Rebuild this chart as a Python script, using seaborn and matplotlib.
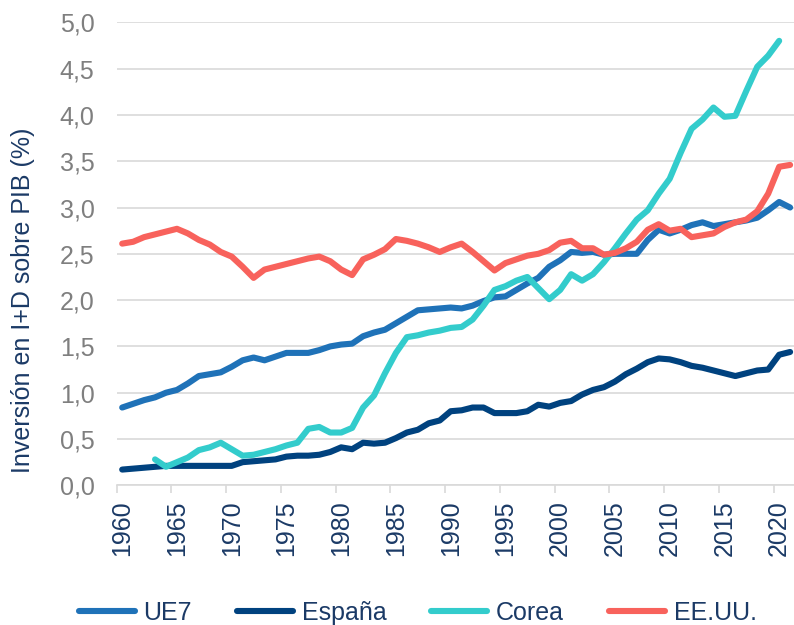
import matplotlib
matplotlib.use('Agg')
import matplotlib.pyplot as plt
from matplotlib.ticker import FixedLocator, FuncFormatter
import seaborn as sns
import pandas as pd
import numpy as np

# Inversión en I+D sobre PIB (%), 1960-2021
years = list(range(1960, 2022))

ue7 = [0.84, 0.88, 0.92, 0.95, 1.00, 1.03, 1.10, 1.18, 1.20, 1.22,
       1.28, 1.35, 1.38, 1.35, 1.39, 1.43, 1.43, 1.43, 1.46, 1.50,
       1.52, 1.53, 1.61, 1.65, 1.68, 1.75, 1.82, 1.89, 1.90, 1.91,
       1.92, 1.91, 1.94, 1.99, 2.03, 2.04, 2.11, 2.18, 2.24, 2.36,
       2.43, 2.52, 2.51, 2.52, 2.49, 2.50, 2.50, 2.50, 2.65, 2.76,
       2.72, 2.76, 2.81, 2.84, 2.80, 2.82, 2.84, 2.86, 2.89, 2.97,
       3.06, 3.00]

espana = [0.17, 0.18, 0.19, 0.20, 0.21, 0.21, 0.21, 0.21, 0.21, 0.21,
          0.21, 0.25, 0.26, 0.27, 0.28, 0.31, 0.32, 0.32, 0.33, 0.36,
          0.41, 0.39, 0.46, 0.45, 0.46, 0.51, 0.57, 0.60, 0.67, 0.70,
          0.80, 0.81, 0.84, 0.84, 0.78, 0.78, 0.78, 0.80, 0.87, 0.85,
          0.89, 0.91, 0.98, 1.03, 1.06, 1.12, 1.20, 1.26, 1.33, 1.37,
          1.36, 1.33, 1.29, 1.27, 1.24, 1.21, 1.18, 1.21, 1.24, 1.25,
          1.41, 1.44]

corea = [np.nan, np.nan, np.nan, 0.28, 0.20, 0.25, 0.30, 0.38, 0.41, 0.46,
         0.39, 0.32, 0.33, 0.36, 0.39, 0.43, 0.46, 0.61, 0.63, 0.57,
         0.57, 0.62, 0.84, 0.97, 1.21, 1.43, 1.60, 1.62, 1.65, 1.67,
         1.70, 1.71, 1.79, 1.94, 2.11, 2.15, 2.21, 2.25, 2.13, 2.01,
         2.11, 2.28, 2.21, 2.28, 2.41, 2.56, 2.72, 2.87, 2.97, 3.15,
         3.31, 3.59, 3.85, 3.95, 4.08, 3.98, 3.99, 4.26, 4.52, 4.64,
         4.80, np.nan]

eeuu = [2.61, 2.63, 2.68, 2.71, 2.74, 2.77, 2.72, 2.65, 2.60, 2.52,
        2.47, 2.36, 2.24, 2.33, 2.36, 2.39, 2.42, 2.45, 2.47, 2.42,
        2.33, 2.27, 2.44, 2.49, 2.55, 2.66, 2.64, 2.61, 2.57, 2.52,
        2.57, 2.61, 2.52, 2.42, 2.32, 2.40, 2.44, 2.48, 2.50, 2.54,
        2.62, 2.64, 2.56, 2.56, 2.49, 2.51, 2.56, 2.63, 2.76, 2.82,
        2.75, 2.77, 2.68, 2.70, 2.72, 2.79, 2.84, 2.87, 2.96, 3.15,
        3.44, 3.46]

series_names = ['UE7', 'España', 'Corea', 'EE.UU.']
colors = ['#1F72B8', '#00427F', '#33CCCC', '#F8625C']

df = pd.concat([
    pd.DataFrame({'year': years, 'value': vals, 'serie': name})
    for name, vals in zip(series_names, [ue7, espana, corea, eeuu])
]).dropna()

sns.set_style('white')
plt.rcParams['font.family'] = ['Liberation Sans', 'DejaVu Sans']

navy = '#1B3A66'
grey = '#7F7F7F'
gridc = '#D9D9D9'

fig = plt.figure(figsize=(7.94, 6.25), dpi=100)
ax = fig.add_axes([0.147, 0.2235, 0.855, 0.7408])

sns.lineplot(data=df, x='year', y='value', hue='serie', hue_order=series_names,
             palette=colors, estimator=None, linewidth=4.4, ax=ax,
             solid_joinstyle='round', solid_capstyle='round')

ax.set_xlim(1959.5, 2021.5)
ax.set_ylim(0, 5.0)
ax.set_yticks(np.arange(0, 5.01, 0.5))
ax.yaxis.set_major_formatter(FuncFormatter(lambda v, p: f'{v:.1f}'.replace('.', ',')))
ax.grid(axis='y', color=gridc, linewidth=1.2)
ax.set_axisbelow(True)

ax.set_xticks(list(range(1960, 2021, 5)))
ax.xaxis.set_minor_locator(FixedLocator([y - 0.5 for y in range(1960, 2021, 5)]))
ax.tick_params(axis='x', which='major', length=0, pad=11, labelsize=18,
               labelcolor=navy, labelrotation=90)
ax.tick_params(axis='x', which='minor', length=6, width=1.2, color=gridc, bottom=True)
ax.tick_params(axis='y', length=0, pad=16, labelsize=18, labelcolor=grey)

for s in ['top', 'right', 'left']:
    ax.spines[s].set_visible(False)
ax.spines['bottom'].set_color(gridc)
ax.spines['bottom'].set_linewidth(1.2)

ax.set_xlabel('')
ax.set_ylabel('Inversión en I+D sobre PIB (%)', fontsize=18, color=navy)
ax.yaxis.set_label_coords(-0.12, 0.40)

handles, labels = ax.get_legend_handles_labels()
ax.get_legend().remove()
leg = fig.legend(handles, labels, loc='center', bbox_to_anchor=(0.526, 0.019),
                 ncol=4, frameon=False, fontsize=18, handlelength=2.24,
                 handletextpad=0.35, columnspacing=1.8, borderaxespad=0)
for t in leg.get_texts():
    t.set_color(navy)
for h in leg.get_lines():
    h.set_linewidth(4.4)

fig.savefig('out.png', dpi=100)
plt.close()
